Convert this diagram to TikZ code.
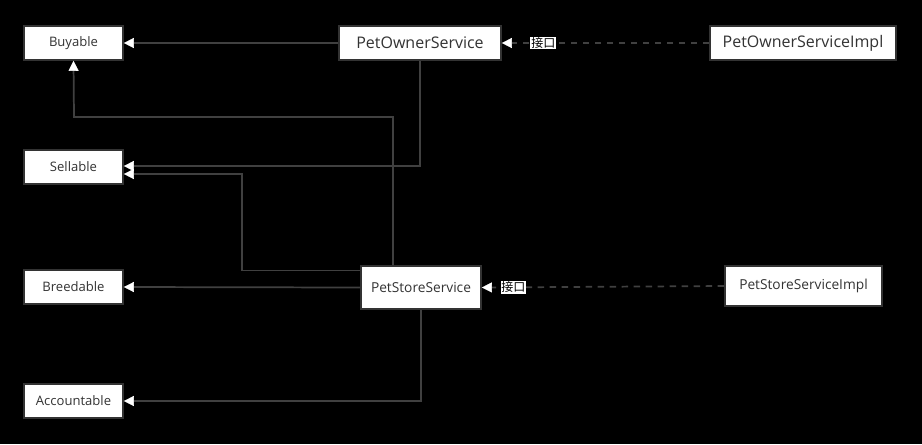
\documentclass[tikz,border=0pt]{standalone}
\usepackage{fontspec}
\setmainfont{Open Sans}
\newfontfamily\cjk{Noto Sans CJK SC}
\usetikzlibrary{arrows.meta}
\definecolor{lin}{HTML}{404040}
\definecolor{bord}{HTML}{333333}
\begin{document}
\begin{tikzpicture}[x=0.75pt,y=-0.75pt,
  box/.style={draw=bord,line width=1.2pt,fill=white,inner sep=0pt,text=black!80},
  small/.style={box,minimum width=74.25pt,minimum height=25.5pt,font=\fontsize{9.8}{11}\selectfont},
  conn/.style={draw=lin,line width=1.3pt,-{Triangle[length=7.5pt,width=7.5pt,color=white,line width=0.4pt]}},
  dconn/.style={conn,dash pattern=on 5pt off 4pt},
  lab/.style={fill=white,text=black,inner sep=0.6pt,font=\cjk\fontsize{9}{10}\selectfont}]
\fill[black] (0,0) rectangle (922,444);
\useasboundingbox (0,0) rectangle (922,444);
\node[small] (buy) at (73.5,43) {Buyable};
\node[small] (sell) at (73.5,167) {Sellable};
\node[small] (breed) at (73.5,287) {Breedable};
\node[small] (acc) at (73.5,401) {Accountable};
\node[box,minimum width=121.5pt,minimum height=25.5pt,font=\fontsize{12}{14}\selectfont] (pos) at (420,43) {PetOwnerService};
\node[box,minimum width=139.5pt,minimum height=25.5pt,font=\fontsize{12}{14}\selectfont] (posi) at (803,43) {PetOwnerServiceImpl};
\node[box,minimum width=90pt,minimum height=32.25pt,font=\fontsize{10.3}{12}\selectfont] (pss) at (421,287.5) {PetStoreService};
\node[box,minimum width=117.75pt,minimum height=30pt,font=\fontsize{10.3}{12}\selectfont] (pssi) at (803.5,286) {PetStoreServiceImpl};
% connectors
\draw[conn] (pos.west) -- (buy.east);
\draw[conn] (pos.south) |- ([yshift=0.75pt]sell.east);
\draw[conn] ([xshift=-21pt]pss.north) |- (74,117) -- (buy.south);
\draw[conn] ([yshift=12.75pt]pss.west) -| (242,174) -- ([yshift=-5.25pt]sell.east);
\draw[conn] (pss.west) -- (breed.east);
\draw[conn] (pss.south) |- (acc.east);
\draw[dconn] (posi.west) -- node[lab,pos=0.8]{接口} (pos.east);
\draw[dconn] (pssi.west) -- node[lab,pos=0.87]{接口} (pss.east);
\end{tikzpicture}
\end{document}
